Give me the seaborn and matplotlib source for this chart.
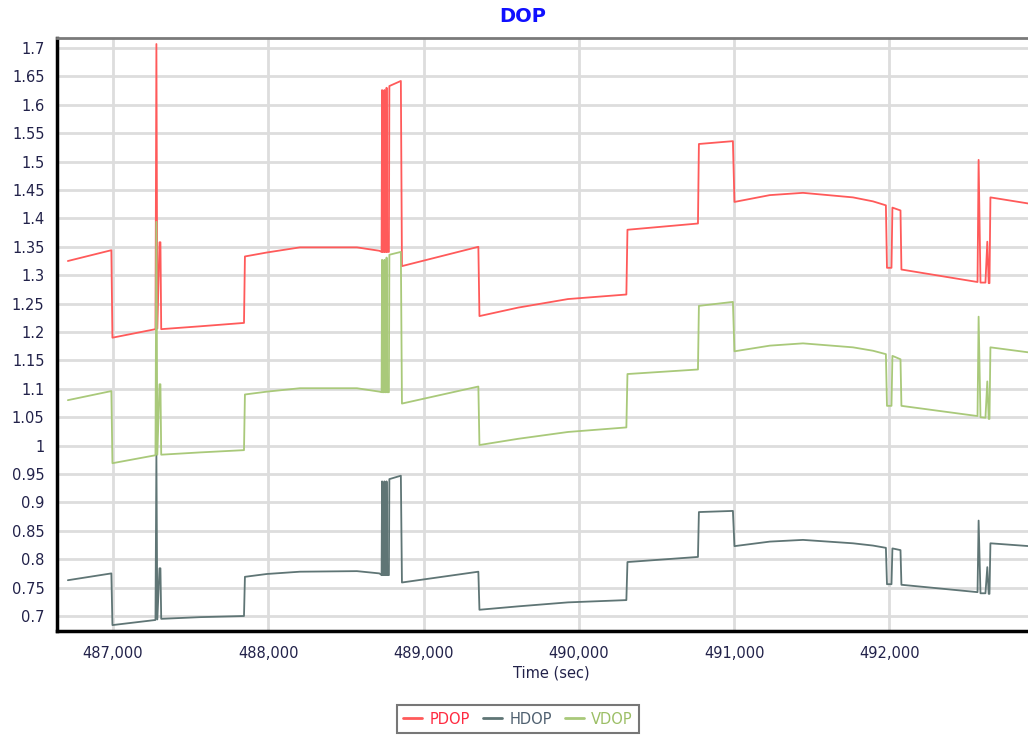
import numpy as np
import pandas as pd
import matplotlib
matplotlib.use("Agg")
import matplotlib.pyplot as plt
from matplotlib.ticker import MultipleLocator, FuncFormatter
from matplotlib.lines import Line2D
import seaborn as sns

# ---- data ----
time_sec = [486710, 486990, 486997, 487274, 487280, 487286, 487300, 487306, 487311,
            487560, 487844, 487850, 487992, 488204, 488571, 488716,
            488730, 488733, 488736, 488745, 488748, 488751, 488760, 488762, 488766,
            488777, 488780, 488854, 488861, 489353, 489360, 489610, 489930, 490306,
            490313, 490767, 490773, 490992, 491002, 491230, 491443, 491765, 491894,
            491977, 491984, 492013, 492019, 492071, 492077, 492567, 492574, 492586,
            492618, 492630, 492639, 492644, 492650, 492900]

pdop = [1.325, 1.344, 1.190, 1.205, 1.707, 1.206, 1.358, 1.358, 1.205,
        1.210, 1.216, 1.333, 1.340, 1.349, 1.349, 1.343,
        1.341, 1.626, 1.341, 1.341, 1.626, 1.341, 1.341, 1.630, 1.341,
        1.341, 1.633, 1.642, 1.316, 1.350, 1.228, 1.243, 1.258, 1.266,
        1.380, 1.391, 1.531, 1.536, 1.429, 1.441, 1.445, 1.437, 1.430,
        1.423, 1.313, 1.313, 1.419, 1.414, 1.310, 1.288, 1.503, 1.287,
        1.287, 1.359, 1.286, 1.286, 1.437, 1.426]

hdop = [0.763, 0.775, 0.684, 0.693, 0.985, 0.694, 0.784, 0.784, 0.695,
        0.698, 0.700, 0.769, 0.774, 0.778, 0.779, 0.775,
        0.772, 0.937, 0.772, 0.772, 0.937, 0.772, 0.772, 0.937, 0.772,
        0.772, 0.941, 0.947, 0.759, 0.778, 0.711, 0.717, 0.724, 0.728,
        0.795, 0.804, 0.883, 0.885, 0.823, 0.831, 0.834, 0.828, 0.824,
        0.820, 0.756, 0.756, 0.819, 0.816, 0.755, 0.742, 0.868, 0.740,
        0.740, 0.786, 0.739, 0.739, 0.828, 0.823]

vdop = [1.080, 1.096, 0.969, 0.983, 1.394, 0.984, 1.108, 1.108, 0.984,
        0.988, 0.992, 1.090, 1.095, 1.101, 1.101, 1.095,
        1.094, 1.327, 1.094, 1.094, 1.327, 1.094, 1.094, 1.331, 1.094,
        1.094, 1.336, 1.341, 1.074, 1.104, 1.001, 1.012, 1.024, 1.032,
        1.126, 1.134, 1.246, 1.253, 1.166, 1.176, 1.180, 1.173, 1.167,
        1.161, 1.070, 1.070, 1.158, 1.152, 1.070, 1.052, 1.227, 1.050,
        1.049, 1.113, 1.047, 1.047, 1.173, 1.164]

series_names = ["PDOP", "HDOP", "VDOP"]
line_colors = ["#ff5a5a", "#5f7575", "#a9c97a"]
text_colors = ["#ff2a40", "#4f6070", "#9cbf66"]

df = pd.concat([
    pd.DataFrame({"Time (sec)": time_sec, "DOP": vals, "Series": name})
    for name, vals in zip(series_names, [pdop, hdop, vdop])
], ignore_index=True)

# ---- figure ----
sns.set_style("white")
plt.rcParams["font.family"] = ["DejaVu Sans"]

fig = plt.figure(figsize=(10.28, 7.38), dpi=100)
ax = fig.add_axes([57 / 1028, 1 - 631 / 738, 1 - 57 / 1028, (631 - 38) / 738])

sns.lineplot(data=df, x="Time (sec)", y="DOP", hue="Series",
             hue_order=series_names, palette=dict(zip(series_names, line_colors)),
             estimator=None, sort=False, linewidth=1.3, legend=False, ax=ax)

ax.set_xlim(486640, 492892)
ax.set_ylim(0.6736, 1.7176)

ax.xaxis.set_major_locator(MultipleLocator(1000))
ax.xaxis.set_minor_locator(MultipleLocator(200))
ax.yaxis.set_major_locator(MultipleLocator(0.05))
ax.yaxis.set_minor_locator(MultipleLocator(0.005))
ax.xaxis.set_major_formatter(FuncFormatter(lambda v, p: f"{v:,.0f}"))
ax.yaxis.set_major_formatter(FuncFormatter(lambda v, p: f"{round(v, 3):g}"))

ax.grid(True, which="major", color="#dddddd", linewidth=2)
ax.set_axisbelow(True)

ax.spines["right"].set_visible(False)
ax.spines["top"].set_color("#7a7a7a")
ax.spines["top"].set_linewidth(2)
ax.spines["left"].set_color("#000000")
ax.spines["left"].set_linewidth(2.5)
ax.spines["bottom"].set_color("#000000")
ax.spines["bottom"].set_linewidth(2.5)

label_color = "#22224a"
ax.tick_params(axis="both", which="major", length=5, width=1, color="#aaaaaa",
               labelsize=10.5, labelcolor=label_color, direction="out")
ax.tick_params(axis="y", which="major", pad=4)
ax.tick_params(axis="x", which="major", pad=6)
ax.tick_params(axis="both", which="minor", length=3, width=1, color="#bbbbbb", direction="out")

ax.set_xlabel("Time (sec)", fontsize=10.5, color=label_color, labelpad=1)
ax.xaxis.set_label_coords((551 - 57) / (1028 - 57), -0.058)
ax.set_ylabel("")

fig.text(523 / 1028, 1 - 17 / 738, "DOP", ha="center", va="center",
         fontsize=14, fontweight="bold", color="#1010ff")

handles = [Line2D([0], [0], color=c, linewidth=2) for c in line_colors]
leg = fig.legend(handles, series_names, loc="center", bbox_to_anchor=(518 / 1028, 1 - 719 / 738),
                 ncol=3, frameon=True, fontsize=10.5, handlelength=1.3, handletextpad=0.5,
                 columnspacing=0.9, borderpad=0.45, fancybox=False)
leg.get_frame().set_edgecolor("#555555")
leg.get_frame().set_linewidth(1.5)
for txt, c in zip(leg.get_texts(), text_colors):
    txt.set_color(c)

fig.savefig("out.png", dpi=100)
